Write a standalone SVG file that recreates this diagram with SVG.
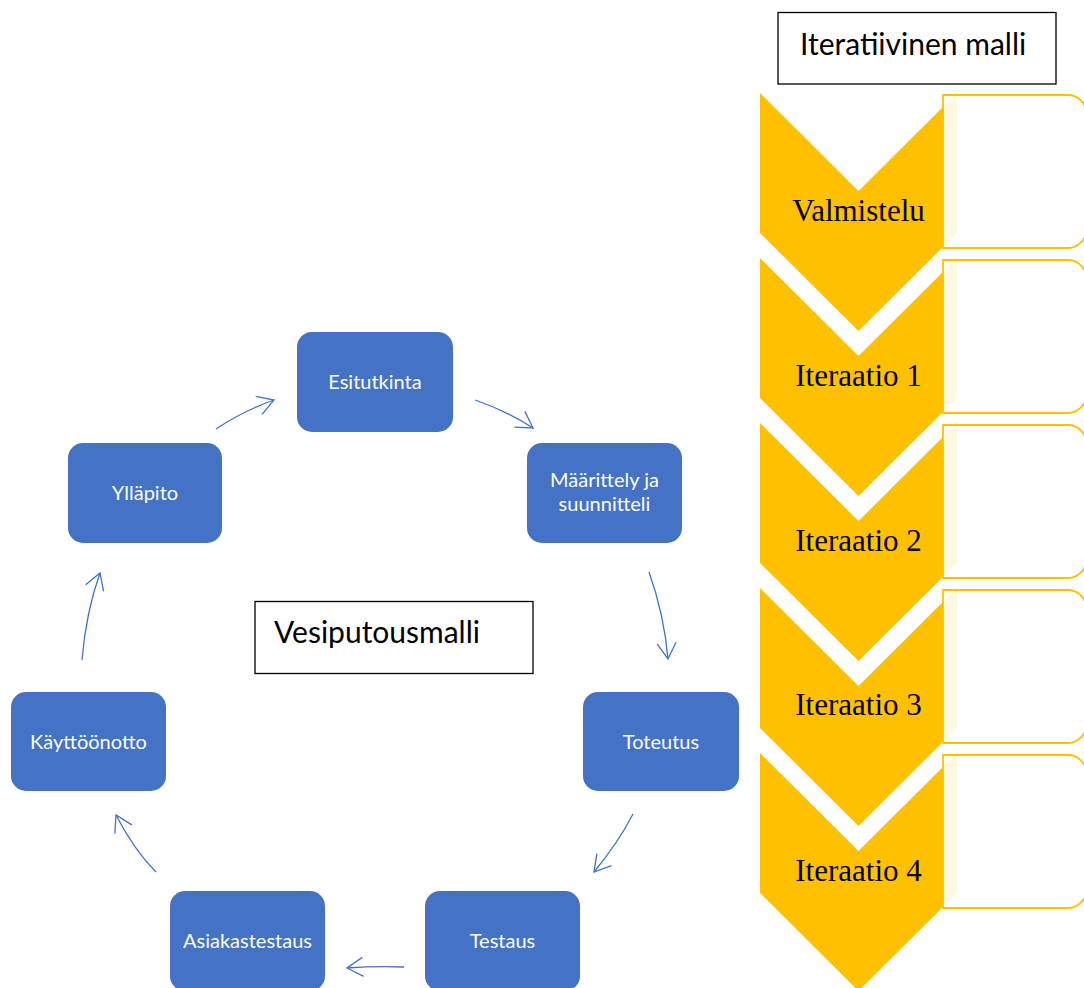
<svg xmlns="http://www.w3.org/2000/svg" width="1084" height="988" viewBox="0 0 1084 988">
<defs>
<style>
.box{fill:#4472C4;}
.btxt{fill:#FFFFFF;font-family:Lato,"Open Sans",sans-serif;font-size:20px;text-anchor:middle;}
.lbl{fill:#FFFFFF;stroke:#000000;stroke-width:1.3;}
.ltxt{fill:#000000;font-family:Lato,"Open Sans",sans-serif;font-size:30px;}
.chev{fill:#FFC000;}
.panel{fill:#FFFFFF;fill-opacity:0.88;stroke:#FFC000;stroke-width:1.8;}
.ctxt{fill:#000000;font-family:"Liberation Serif","Times New Roman",serif;font-size:31px;text-anchor:middle;}
.conn{fill:none;stroke:#4472C4;stroke-width:1.3;marker-end:url(#arr);}
</style>
<marker id="arr" markerUnits="userSpaceOnUse" markerWidth="40" markerHeight="40" refX="0" refY="0" orient="auto" overflow="visible">
<path d="M-16,-9.5 L0,0 L-16,9.5" fill="none" stroke="#4472C4" stroke-width="1.3"/>
</marker>
</defs>
<rect width="1084" height="988" fill="#FFFFFF"/>

<g id="title-iter">
<rect class="lbl" x="778" y="12.5" width="278" height="71.5"/>
<text class="ltxt" x="800" y="55">Iteratiivinen malli</text>
</g>

<g id="valmistelu">
<path class="chev" d="M760,93 L858.5,191 L957,93 L957,233 L858.5,331 L760,233 Z"/>
<path class="panel" d="M943,95 H1068 A18,18 0 0 1 1086,113 V230 A18,18 0 0 1 1068,248 H943 Z"/>
<text class="ctxt" x="858.5" y="221">Valmistelu</text>
</g>
<g id="iteraatio1">
<path class="chev" d="M760,258 L858.5,356 L957,258 L957,398 L858.5,496 L760,398 Z"/>
<path class="panel" d="M943,260 H1068 A18,18 0 0 1 1086,278 V395 A18,18 0 0 1 1068,413 H943 Z"/>
<text class="ctxt" x="858.5" y="386">Iteraatio 1</text>
</g>
<g id="iteraatio2">
<path class="chev" d="M760,423 L858.5,521 L957,423 L957,563 L858.5,661 L760,563 Z"/>
<path class="panel" d="M943,425 H1068 A18,18 0 0 1 1086,443 V560 A18,18 0 0 1 1068,578 H943 Z"/>
<text class="ctxt" x="858.5" y="551">Iteraatio 2</text>
</g>
<g id="iteraatio3">
<path class="chev" d="M760,588 L858.5,686 L957,588 L957,728 L858.5,826 L760,728 Z"/>
<path class="panel" d="M943,590 H1068 A18,18 0 0 1 1086,608 V725 A18,18 0 0 1 1068,743 H943 Z"/>
<text class="ctxt" x="858.5" y="715">Iteraatio 3</text>
</g>
<g id="iteraatio4">
<path class="chev" d="M760,753 L858.5,851 L957,753 L957,893 L858.5,991 L760,893 Z"/>
<path class="panel" d="M943,755 H1068 A18,18 0 0 1 1086,773 V890 A18,18 0 0 1 1068,908 H943 Z"/>
<text class="ctxt" x="858.5" y="881">Iteraatio 4</text>
</g>

<g id="title-vesi">
<rect class="lbl" x="255" y="601.5" width="278" height="72"/>
<text class="ltxt" x="274" y="643">Vesiputousmalli</text>
</g>

<g id="esitutkinta">
<rect class="box" x="297" y="332" width="156" height="100" rx="15"/>
<text class="btxt" x="375" y="389">Esitutkinta</text>
</g>
<g id="maarittely">
<rect class="box" x="527" y="443" width="155" height="100" rx="15"/>
<text class="btxt" x="604.5" y="487">Määrittely ja</text>
<text class="btxt" x="604.5" y="511">suunnitteli</text>
</g>
<g id="toteutus">
<rect class="box" x="583" y="692" width="156" height="99" rx="15"/>
<text class="btxt" x="661" y="748.5">Toteutus</text>
</g>
<g id="testaus">
<rect class="box" x="425" y="891" width="155" height="100" rx="15"/>
<text class="btxt" x="502.5" y="947.5">Testaus</text>
</g>
<g id="asiakastestaus">
<rect class="box" x="170" y="891" width="155" height="100" rx="15"/>
<text class="btxt" x="247.5" y="947.5">Asiakastestaus</text>
</g>
<g id="kayttoonotto">
<rect class="box" x="11" y="692" width="155" height="99" rx="15"/>
<text class="btxt" x="88.5" y="748.5">Käyttöönotto</text>
</g>
<g id="yllapito">
<rect class="box" x="68" y="443" width="154" height="100" rx="15"/>
<text class="btxt" x="145" y="500">Ylläpito</text>
</g>

<g id="connectors">
<path class="conn" d="M216,429 Q243,411 274,400"/>
<path class="conn" d="M475,400 Q507,411 533,428"/>
<path class="conn" d="M649,572 Q664,614 668,659"/>
<path class="conn" d="M633,814 Q618,843 594,872"/>
<path class="conn" d="M404,967 Q375,966 347,968"/>
<path class="conn" d="M156,872 Q134,850 116,815"/>
<path class="conn" d="M82,660 Q86,612 100,573"/>
</g>
</svg>
